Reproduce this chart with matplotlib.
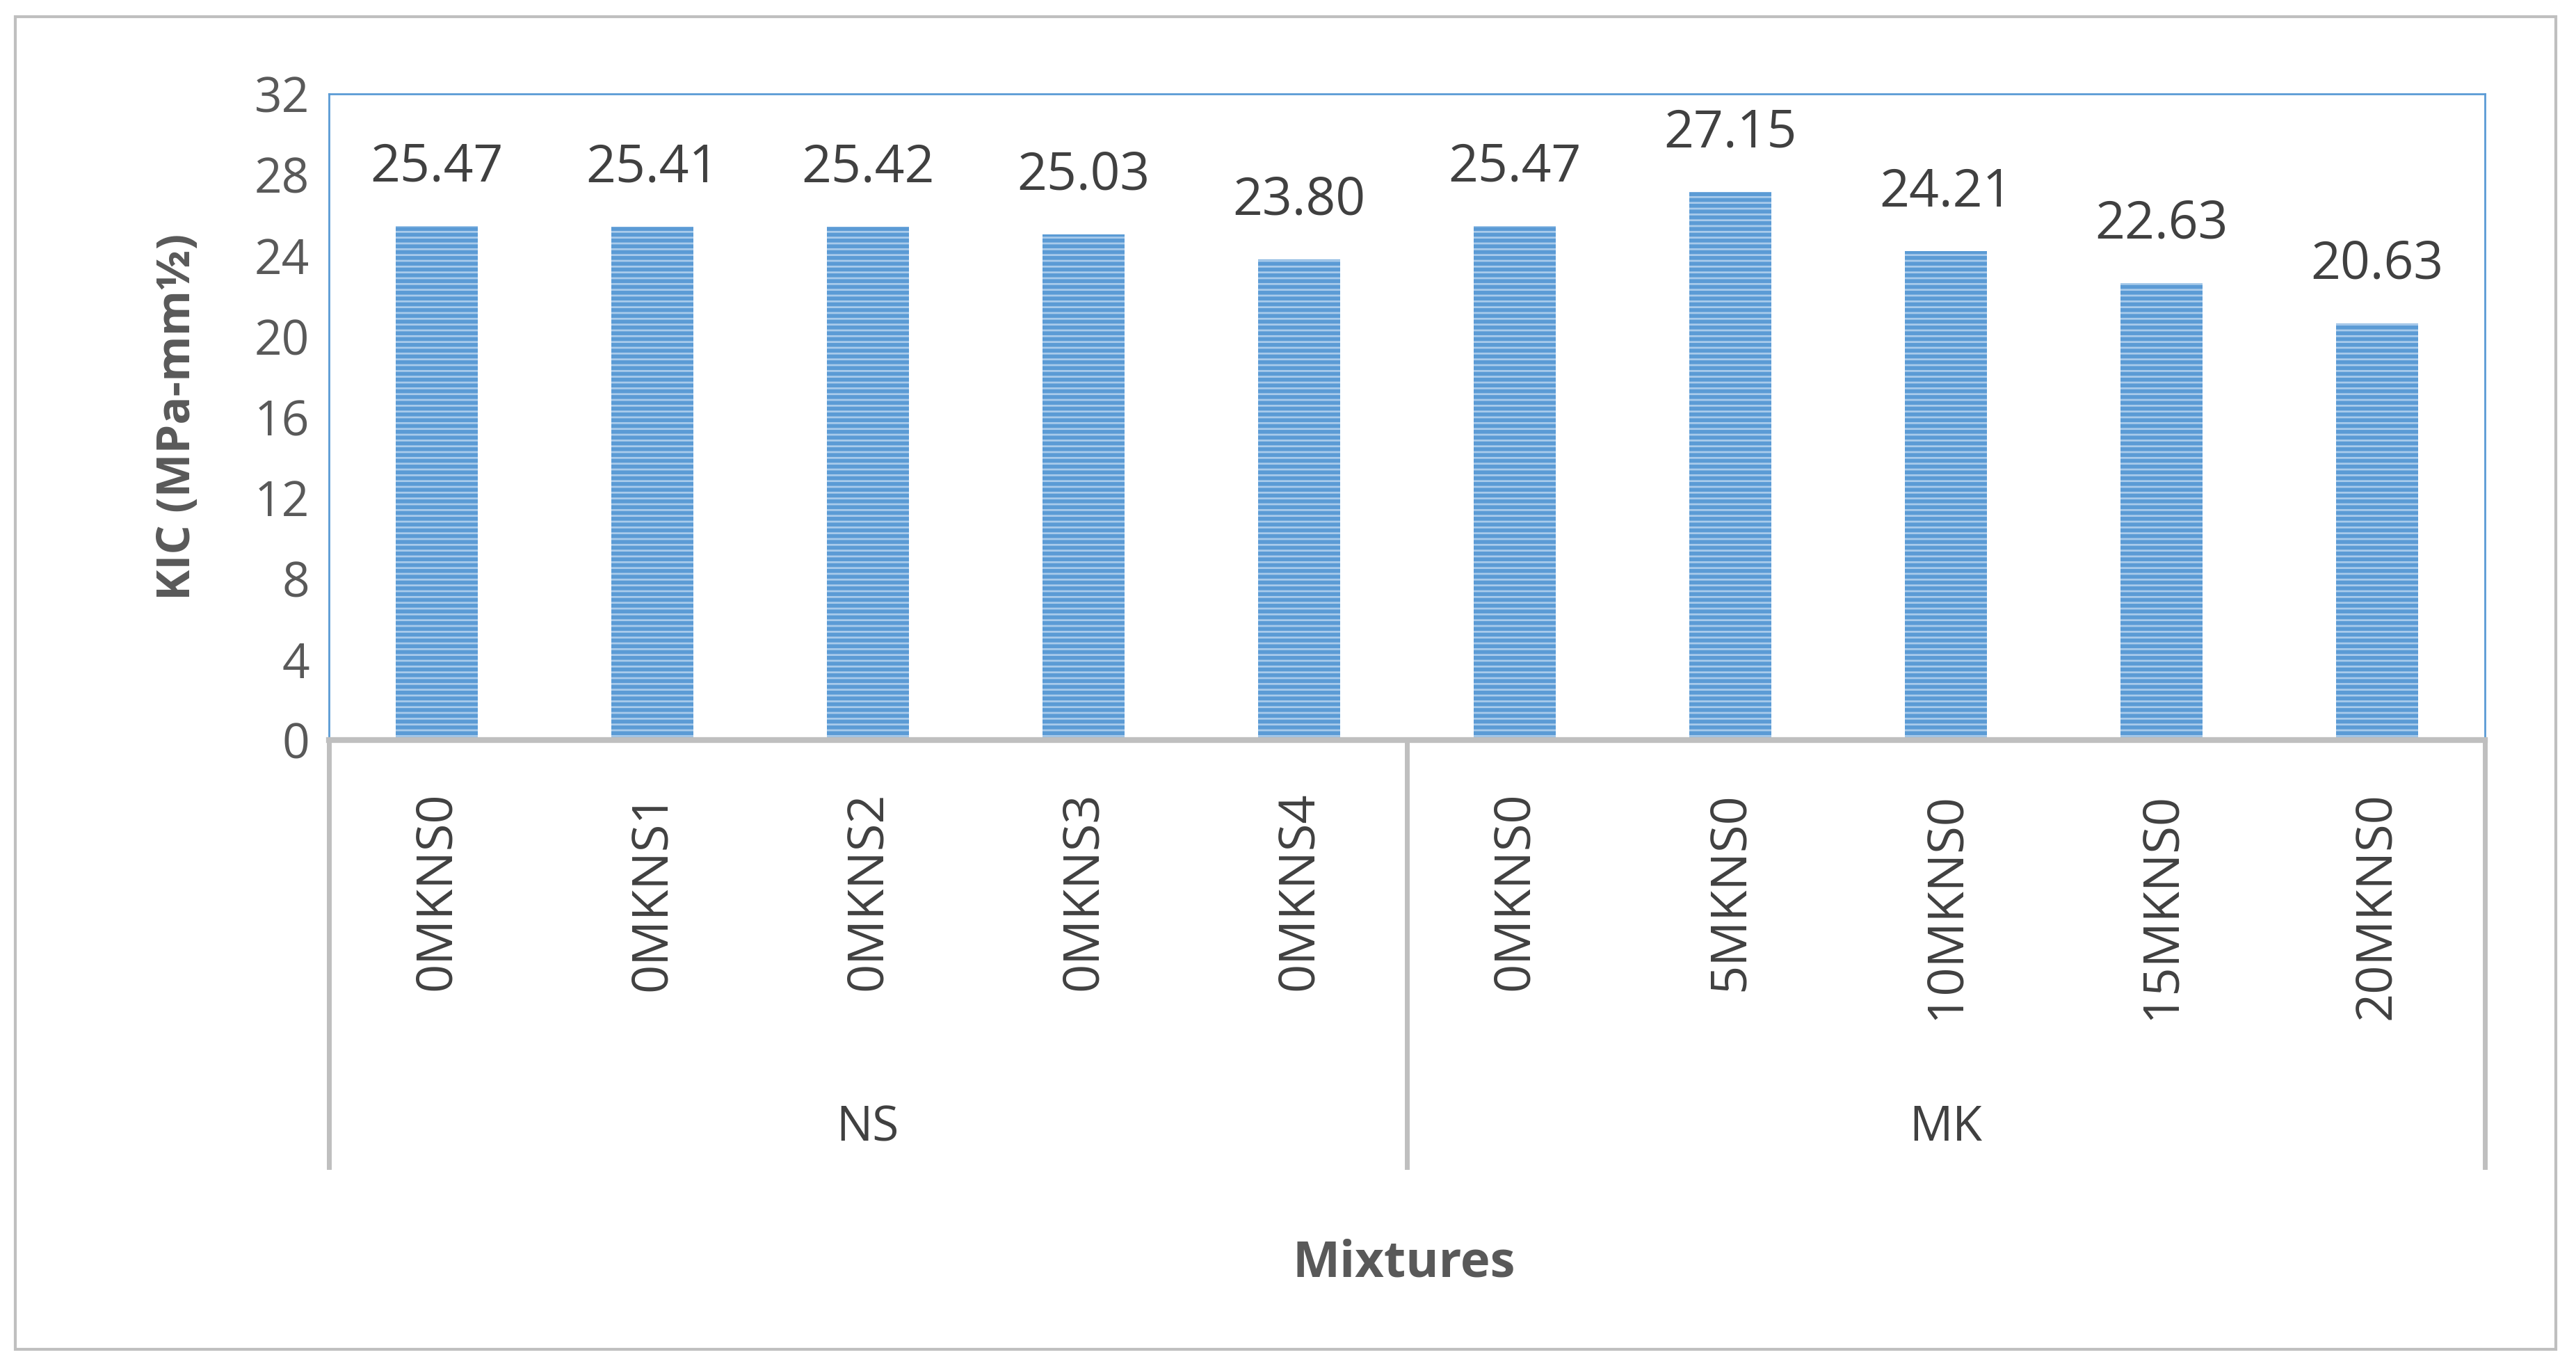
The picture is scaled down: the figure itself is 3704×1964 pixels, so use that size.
import matplotlib
matplotlib.use("Agg")
import matplotlib.pyplot as plt
from matplotlib.patches import Rectangle
from matplotlib.lines import Line2D

categories = ["0MKNS0", "0MKNS1", "0MKNS2", "0MKNS3", "0MKNS4",
              "0MKNS0", "5MKNS0", "10MKNS0", "15MKNS0", "20MKNS0"]
groups = ["NS", "MK"]
values = [25.47, 25.41, 25.42, 25.03, 23.80, 25.47, 27.15, 24.21, 22.63, 20.63]
yticks = [0, 4, 8, 12, 16, 20, 24, 28, 32]

plt.rcParams['font.family'] = ['Open Sans', 'DejaVu Sans']
plt.rcParams['hatch.linewidth'] = 4
fig = plt.figure(figsize=(37.05, 19.64), dpi=100)
fig.patches.append(Rectangle((0.006, 0.012), 0.986, 0.976, transform=fig.transFigure,
                             fill=False, edgecolor='#bfbfbf', linewidth=3))
ax = fig.add_axes([0.1276, 0.458, 0.8367, 0.4733])
x = list(range(len(values)))
ax.bar(x, values, width=0.38, color='#a9cbeb', edgecolor='#5b9bd5', hatch='--', linewidth=0)
for xi, v in zip(x, values):
    ax.text(xi, v + 1.6, f"{v:.2f}", ha='center', va='bottom', fontsize=54, color='#404040')
ax.set_xlim(-0.5, len(values) - 0.5)
ax.set_ylim(0, 32)
ax.set_yticks(yticks)
ax.tick_params(axis='y', labelsize=50, labelcolor='#595959', length=0, pad=20)
ax.set_xticks([])
for s in ['top', 'right', 'left']:
    ax.spines[s].set_color('#5b9bd5'); ax.spines[s].set_linewidth(2)
ax.spines['bottom'].set_color('#bfbfbf'); ax.spines['bottom'].set_linewidth(6)
ax.set_ylabel("KIC (MPa-mm½)", fontsize=48, fontweight='bold', color='#595959', labelpad=55)

tr = ax.get_xaxis_transform()
for xi, c in zip(x, categories):
    ax.text(xi, -0.08, c, rotation=90, ha='center', va='top', fontsize=52,
            color='#404040', transform=tr, clip_on=False)
for gx in [-0.5, 4.5, 9.5]:
    ax.add_line(Line2D([gx, gx], [0, -0.66], transform=tr, color='#bfbfbf', linewidth=5, clip_on=False))
for gi, g in enumerate(groups):
    ax.text(2 + 5 * gi, -0.6, g, ha='center', va='center', fontsize=50, color='#404040',
            transform=tr, clip_on=False)
fig.text(0.545, 0.075, "Mixtures", ha='center', va='center', fontsize=52, fontweight='bold', color='#595959')
fig.savefig("out.png", dpi=100)
